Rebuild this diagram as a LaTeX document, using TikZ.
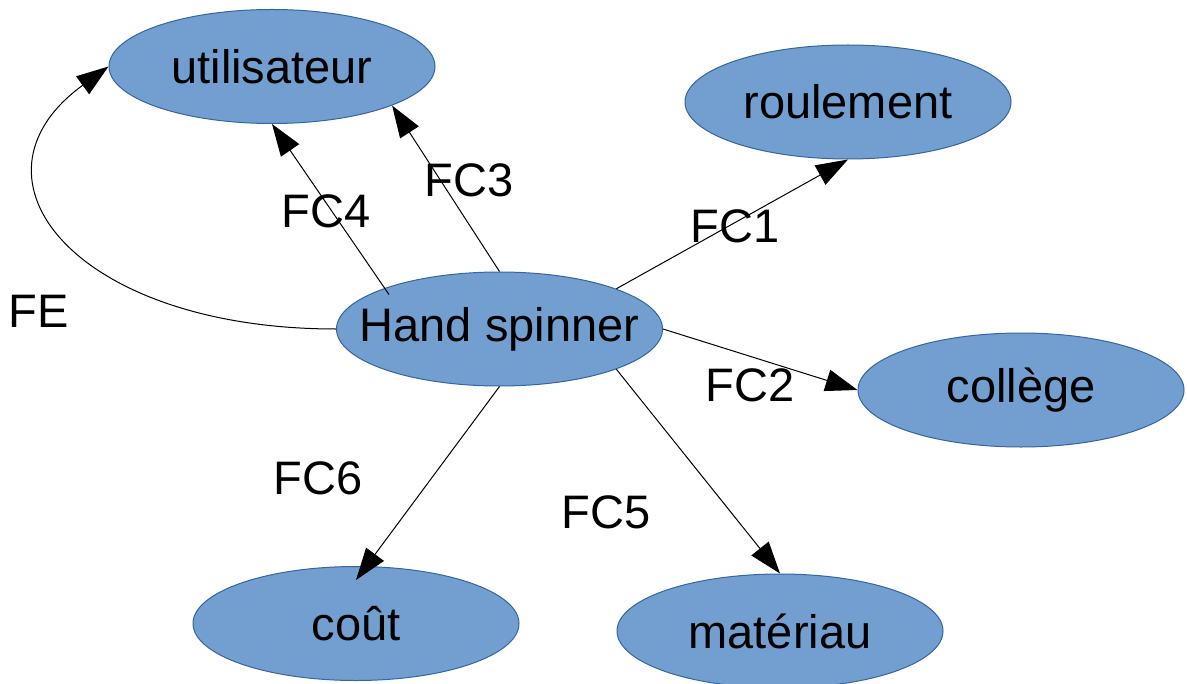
\documentclass[tikz,border=0pt]{standalone}
\usepackage{fontspec}
\setmainfont{Liberation Sans}
\usetikzlibrary{arrows.meta,shapes.geometric}
\definecolor{efill}{HTML}{729FCF}
\definecolor{eline}{HTML}{3465A4}
\begin{document}
\begin{tikzpicture}[x=0.5pt,y=-0.5pt,
  ell/.style={ellipse,draw=eline,fill=efill,line width=0.5pt,minimum width=163pt,minimum height=57pt,inner sep=0pt,label={[lbl]center:#1}},
  lbl/.style={font=\fontsize{23.5}{28}\selectfont,inner sep=0pt},
  conn/.style={draw=black,line width=0.5pt,-{Triangle[length=16pt,width=11pt]}}]
\useasboundingbox (0,0) rectangle (1187,684);
\node[ell=utilisateur] (ut) at (272,66.5) {};
\node[ell=roulement] (rl) at (848,102) {};
\node[ell=Hand spinner] (hs) at (499.5,329) {};
\node[ell=collège] (cl) at (1021,390) {};
\node[ell=coût] (ct) at (356,623.5) {};
\node[ell=matériau] (mt) at (780,631) {};
% connectors
\draw[conn] (hs.west) .. controls +(-260,0) and +(-154,112) .. (ut.west);
\draw[conn] ([yshift=-4pt]hs.159) -- (ut.south);
\draw[conn] (hs.north) -- (ut.-18);
\draw[conn] (hs.19) -- (rl.south);
\draw[conn] (hs.east) -- (cl.west);
\draw[conn] (hs.-19) -- (mt.north);
\draw[conn] (hs.south) -- ([yshift=-7pt]ct.north);
% labels
\node[lbl] (lfe) at (39,311) {FE};
\node[lbl] (lfc4) at (326,211) {FC4};
\node[lbl] (lfc3) at (469,180) {FC3};
\node[lbl] (lfc1) at (735,226) {FC1};
\node[lbl] (lfc2) at (750,385) {FC2};
\node[lbl] (lfc6) at (318,478) {FC6};
\node[lbl] (lfc5) at (606,512) {FC5};
\end{tikzpicture}
\end{document}
